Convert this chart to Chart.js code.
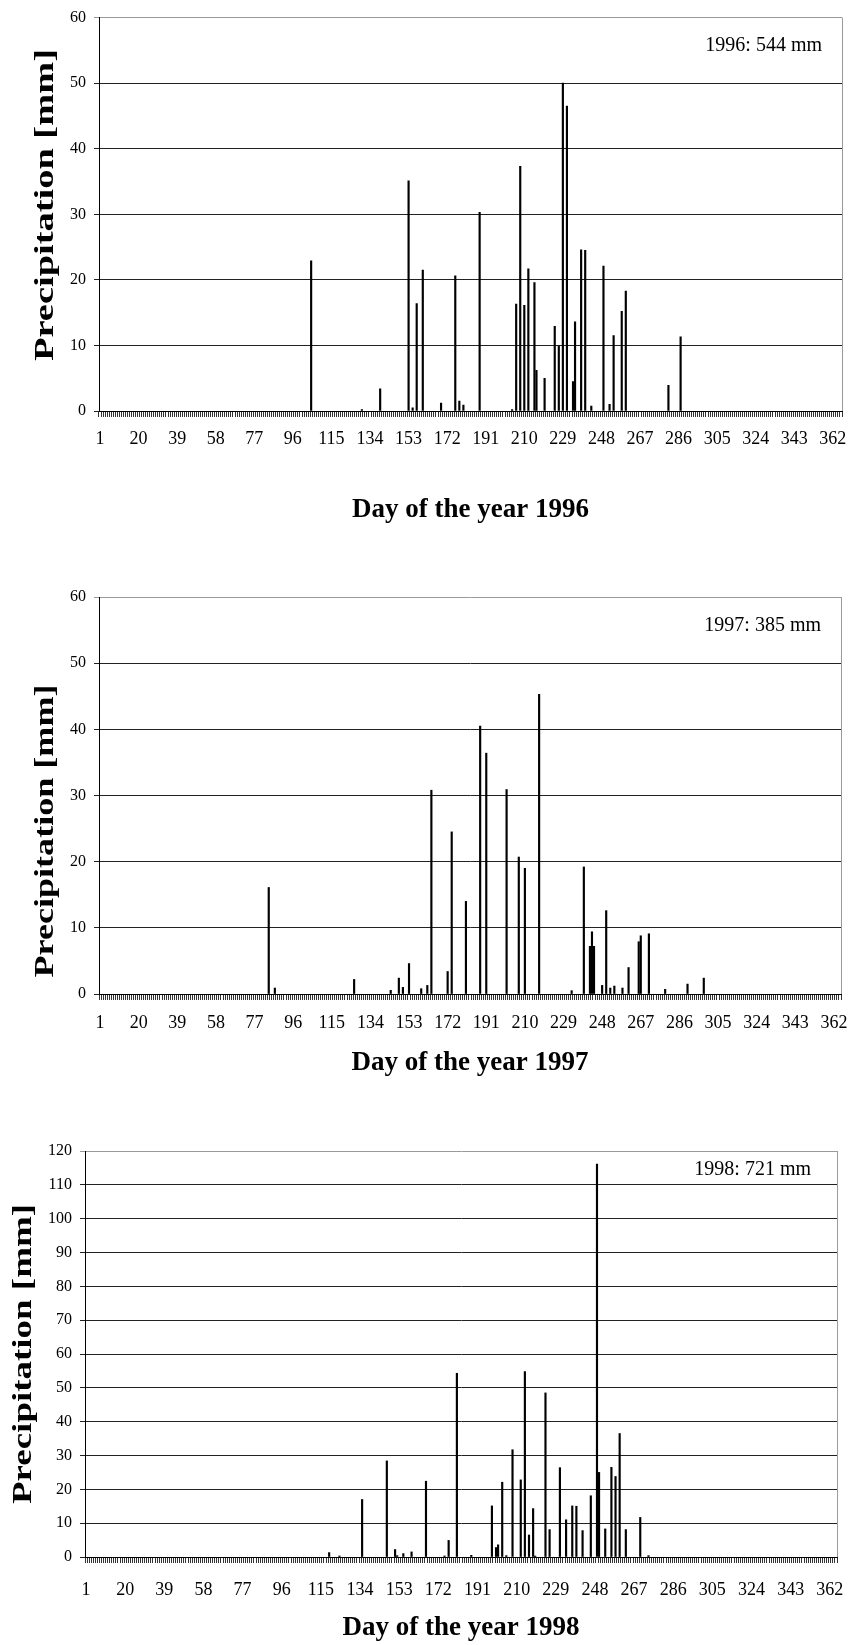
<!DOCTYPE html>
<html>
<head>
<meta charset="utf-8">
<script src="https://cdn.jsdelivr.net/npm/chart.js@4.4.1/dist/chart.umd.min.js"></script>
<style>
  body { margin: 0; background: #fff; }
  #page { position: relative; width: 852px; height: 1645px; }
  canvas { position: absolute; left: 0; }
</style>
</head>
<body>
<div id="page">
  <canvas id="c1996" width="852" height="540" style="top:0px"></canvas>
  <canvas id="c1997" width="852" height="520" style="top:560px"></canvas>
  <canvas id="c1998" width="852" height="545" style="top:1100px"></canvas>
</div>
<script>
// rain days and amounts (mm)
const days1996 = [105, 130, 139, 153, 155, 157, 160, 169, 176, 178, 180, 188,
  204, 206, 208, 210, 212, 215, 216, 220, 225, 227, 229, 231, 234, 235, 238, 240,
  243, 249, 252, 254, 258, 260, 281, 287];
const rain1996 = [22.9, 0.2, 3.4, 35.1, 0.5, 16.4, 21.5, 1.2, 20.6, 1.5, 0.9, 30.3,
  0.2, 16.3, 37.3, 16.1, 21.7, 19.6, 6.2, 5.0, 12.9, 9.9, 50.0, 46.5, 4.5, 13.6, 24.6, 24.5,
  0.75, 22.1, 1.0, 11.5, 15.2, 18.3, 3.9, 11.3];

const days1997 = [84, 87, 126, 144, 148, 150, 153, 159, 162, 164, 172, 174, 181,
  188, 191, 201, 207, 210, 217, 233, 239, 242, 243, 244, 248, 250, 252, 254, 258,
  261, 266, 267, 271, 279, 290, 298];
const rain1997 = [16.1, 0.9, 2.2, 0.55, 2.4, 1.0, 4.6, 0.8, 1.3, 30.8, 3.4, 24.5, 14.0,
  40.5, 36.4, 30.9, 20.7, 19.0, 45.3, 0.5, 19.2, 7.2, 9.4, 7.2, 1.3, 12.6, 0.9, 1.2, 0.9,
  4.0, 7.9, 8.8, 9.1, 0.7, 1.5, 2.4];

const days1998 = [119, 124, 135, 147, 151, 152, 155, 159, 166, 175, 177, 181, 188,
  198, 200, 201, 203, 205, 208, 212, 214, 216, 218, 219, 224, 226, 231, 234, 237, 239,
  242, 246, 249, 250, 253, 256, 258, 260, 263, 270, 274];
const rain1998 = [1.3, 0.3, 17.0, 28.4, 2.2, 0.4, 1.0, 1.5, 22.4, 0.3, 4.9, 54.3, 0.5,
  15.1, 2.8, 3.6, 22.1, 0.4, 31.7, 22.8, 54.8, 6.5, 14.3, 0.3, 48.5, 8.1, 26.4, 11.0, 15.1, 15.0,
  7.8, 18.1, 116.1, 25.0, 8.3, 26.5, 23.8, 36.5, 8.1, 11.7, 0.4];

const labelEvery = 19;   // 1, 20, 39, ... 362

Chart.defaults.font.family = 'Liberation Serif';
Chart.defaults.color = '#000';

// total in the corner, gray right frame, and the (tall, stretched) y title
const notePlugin = {
  id: 'note',
  afterDraw(chart, args, opts) {
    const { ctx, chartArea: a } = chart;
    ctx.save();
    ctx.strokeStyle = '#999';
    ctx.lineWidth = 1;
    ctx.beginPath();
    ctx.moveTo(a.right + 0.5, a.top);
    ctx.lineTo(a.right + 0.5, a.bottom);
    ctx.stroke();

    ctx.font = '20px "Liberation Serif"';
    ctx.fillStyle = '#000';
    ctx.textAlign = 'right';
    ctx.textBaseline = 'middle';
    ctx.fillText(opts.text, a.right - opts.dx, a.top + opts.dy);

    // y title: excel drew it stretched along its length
    ctx.translate(opts.titleX, opts.titleY);
    ctx.rotate(-Math.PI / 2);
    ctx.font = 'bold 27px "Liberation Serif"';
    const w = ctx.measureText(opts.title).width;
    ctx.scale(opts.titleLen / w, 1);
    ctx.textAlign = 'center';
    ctx.fillText(opts.title, 0, 0);
    ctx.restore();
  }
};

function makeChart(id, year, nDays, days, rain, cfg) {
  const labels = [];
  for (let i = 1; i <= nDays; i++) labels.push(String(i));
  const values = new Array(nDays).fill(null);
  days.forEach((d, i) => { values[d - 1] = rain[i]; });

  new Chart(document.getElementById(id), {
    type: 'bar',
    data: {
      labels: labels,
      datasets: [{
        data: values,
        backgroundColor: '#000',
        borderWidth: 0,
        barThickness: 1.5
      }]
    },
    plugins: [notePlugin],
    options: {
      responsive: false,
      animation: false,
      devicePixelRatio: 1,
      layout: { padding: cfg.padding },
      plugins: {
        legend: { display: false },
        tooltip: { enabled: false },
        note: {
          text: cfg.note, dx: cfg.noteDx, dy: cfg.noteDy,
          title: 'Precipitation [mm]', titleX: cfg.titleX, titleY: cfg.titleY, titleLen: cfg.titleLen
        }
      },
      scales: {
        x: {
          afterFit: s => { s.height = cfg.xHeight; },
          border: { color: '#000', width: 1 },
          grid: { drawOnChartArea: false, tickLength: 6, tickColor: '#333', lineWidth: 1 },
          ticks: {
            autoSkip: false,
            maxRotation: 0,
            minRotation: 0,
            padding: cfg.tickPad,
            font: { size: 18 },
            callback: (v, i) => (i % labelEvery === 0 ? labels[i] : '')
          },
          title: {
            display: true,
            text: 'Day of the year ' + year,
            font: { size: 27, weight: 'bold' },
            padding: { top: 0, bottom: cfg.xTitlePad }
          }
        },
        y: {
          min: 0,
          max: cfg.yMax,
          afterFit: s => { s.width = cfg.yWidth; },
          border: { color: '#000', width: 1 },
          grid: {
            color: c => (c.tick && c.tick.value === cfg.yMax ? '#999' : '#222'),
            tickLength: 5
          },
          ticks: { stepSize: 10, padding: 8, font: { size: 16 } }
        }
      }
    }
  });
}

makeChart('c1996', 1996, 366, days1996, rain1996, {
  yMax: 60, yWidth: 99, xHeight: 129,
  padding: { top: 15, right: 10, left: 0, bottom: 0 },
  tickPad: 11, xTitlePad: 14,
  titleX: 46, titleY: 205, titleLen: 312,
  note: '1996: 544 mm', noteDx: 20, noteDy: 28
});

makeChart('c1997', 1997, 365, days1997, rain1997, {
  yMax: 60, yWidth: 99, xHeight: 86,
  padding: { top: 37, right: 10, left: 0, bottom: 0 },
  tickPad: 12, xTitlePad: 1,
  titleX: 46, titleY: 271, titleLen: 293,
  note: '1997: 385 mm', noteDx: 20, noteDy: 29
});

makeChart('c1998', 1998, 365, days1998, rain1998, {
  yMax: 120, yWidth: 85, xHeight: 88,
  padding: { top: 51, right: 10, left: 0, bottom: 0 },
  tickPad: 16, xTitlePad: 1,
  titleX: 24, titleY: 254, titleLen: 300,
  note: '1998: 721 mm', noteDx: 26, noteDy: 19
});
</script>
</body>
</html>
